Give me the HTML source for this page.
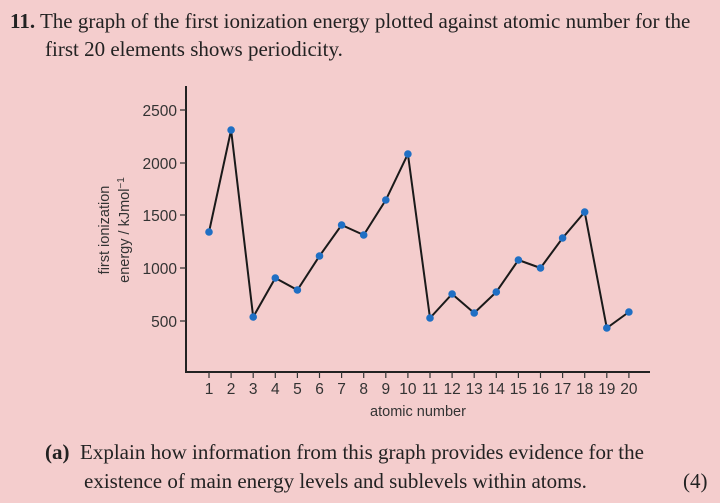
<!DOCTYPE html>
<html><head><style>
body{margin:0;width:720px;height:503px;background:#f4cdcd;overflow:hidden;position:relative;font-family:"Liberation Serif",serif;color:#222}
.t{position:absolute;font-size:21px;white-space:nowrap}
</style></head><body>
<div class="t" style="left:10px;top:9px"><b>11.</b> The graph of the first ionization energy plotted against atomic number for the</div>
<div class="t" style="left:45px;top:37px">first 20 elements shows periodicity.</div>
<div class="t" style="left:45px;top:440px"><b>(a)</b>&nbsp; Explain how information from this graph provides evidence for the</div>
<div class="t" style="left:84px;top:469px">existence of main energy levels and sublevels within atoms.</div>
<div class="t" style="left:683px;top:469px">(4)</div>
<svg width="720" height="503" style="position:absolute;left:0;top:0" font-family="Liberation Sans, sans-serif" fill="#333">
<g stroke="#222" stroke-width="2" fill="none">
<path d="M186 86V372H650"/>
</g>
<g stroke="#333" stroke-width="1.2">
<path d="M180 110H186M180 163H186M180 215H186M180 268H186M180 321H186"/>
</g>
<g font-size="15.5" text-anchor="end">
<text x="177" y="116">2500</text><text x="177" y="169">2000</text><text x="177" y="221">1500</text><text x="177" y="274">1000</text><text x="177" y="327">500</text>
</g>
<g id="xt" font-size="15.5" text-anchor="middle"></g>
<text x="418" y="416" font-size="14.5" text-anchor="middle">atomic number</text>
<text transform="translate(109,230) rotate(-90)" font-size="14.5" text-anchor="middle">first ionization</text>
<text transform="translate(129,230) rotate(-90)" font-size="14.5" text-anchor="middle">energy / kJmol<tspan dy="-5" font-size="10">−1</tspan></text>
<polyline id="ln" fill="none" stroke="#1a1a1a" stroke-width="2"/>
<g id="pts" fill="#1f6fc4"></g>
</svg>
<script>
var ys=[232,130,317,278,290,256,225,235,200,154,318,294,313,292,260,268,238,212,328,312];
var p="",c="",t="";
for(var i=0;i<20;i++){var x=209+i*22.1;p+=x+","+ys[i]+" ";c+='<circle cx="'+x+'" cy="'+ys[i]+'" r="3.8"/>';
t+='<line x1="'+x+'" y1="372" x2="'+x+'" y2="378" stroke="#333" stroke-width="1.2"/><text x="'+x+'" y="394">'+(i+1)+'</text>';}
document.getElementById("ln").setAttribute("points",p);
document.getElementById("pts").innerHTML=c;
document.getElementById("xt").innerHTML=t;
</script>
</body></html>
